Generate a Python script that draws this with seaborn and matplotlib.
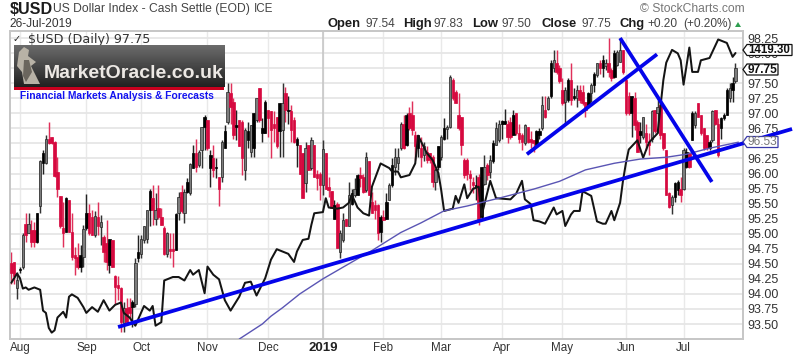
import numpy as np
import seaborn as sns
import matplotlib
matplotlib.use("Agg")
import matplotlib.pyplot as plt
from matplotlib.patches import Polygon, Rectangle

# ---- daily candles for $USD ----
opens = [94.51,94.53,94.09,94.42,94.45,95.16,95.02,95.06,95.06,95.34,
95.46,96.34,96.17,96.58,96.61,96.53,96.03,95.63,95.09,95.59,
95.56,95.03,94.65,94.62,94.65,94.62,95.35,95.34,95.28,94.98,
95.28,95.11,94.95,94.84,94.92,94.89,94.30,94.15,94.09,93.51,
93.76,93.79,93.87,93.84,94.70,94.67,94.89,94.92,95.71,95.59,
95.25,95.42,95.28,95.09,94.67,94.75,94.75,95.33,95.34,95.70,
95.34,95.86,95.67,96.34,96.34,96.14,96.39,96.94,96.89,96.31,
96.25,96.11,95.95,95.95,96.70,96.86,97.33,97.19,96.81,96.89,
96.86,96.06,96.70,96.36,97.00,96.89,97.42,96.75,97.19,97.06,
97.03,96.83,96.94,97.17,96.72,97.33,97.06,97.03,96.89,96.58,
96.47,96.34,95.84,96.47,96.09,96.47,96.00,96.00,95.81,96.34,
95.78,95.71,95.48,95.50,94.70,94.89,95.25,95.12,95.67,95.64,
95.97,95.97,95.95,95.73,96.20,95.53,95.48,95.48,95.28,95.28,
95.53,95.56,96.14,96.11,96.17,96.42,96.83,96.97,97.00,96.97,
96.64,96.64,96.42,96.31,96.36,96.34,96.28,95.86,96.45,96.28,
96.75,96.74,96.78,97.55,97.36,96.97,96.94,96.23,96.23,96.00,
95.86,95.81,95.95,96.11,95.83,96.14,96.03,96.50,96.47,96.56,
96.87,96.87,96.83,96.85,96.97,97.00,96.67,96.64,96.50,96.78,
96.58,96.56,96.70,96.70,96.75,97.06,97.07,97.83,97.75,97.83,
97.75,97.39,97.19,97.55,97.55,97.28,97.25,97.39,97.36,97.19,
97.33,97.33,97.66,97.64,97.83,97.89,97.78,97.83,97.72,98.00,
97.80,97.86,98.05,97.55,97.28,97.28,97.25,96.86,96.70,96.61,
96.67,96.53,96.58,97.06,97.00,97.14,96.67,96.39,95.67,95.48,
95.84,95.86,95.75,95.75,96.36,96.34,97.00,96.81,97.17,96.97,
96.75,96.64,96.53,96.56,97.06,96.83,96.92,96.97,97.39,97.25,
97.50,97.54]
closes = [94.34,94.29,94.23,94.40,94.98,94.98,95.16,94.87,94.87,94.87,
96.20,96.17,96.58,96.50,96.50,95.96,95.75,95.12,95.01,95.03,
95.03,94.62,94.59,94.45,94.45,95.07,95.09,95.01,94.98,95.30,
95.12,95.20,94.70,94.53,94.48,94.45,94.12,94.09,93.54,93.76,
93.54,93.68,93.79,94.51,94.59,94.92,95.12,95.39,95.39,95.39,
95.40,95.28,95.14,94.67,95.01,94.72,94.72,94.73,95.61,95.37,
95.70,95.70,96.16,96.09,96.11,96.36,96.77,96.77,96.42,96.09,
96.06,96.09,95.75,96.53,96.42,97.36,97.11,96.64,96.78,96.45,
96.25,96.72,96.56,96.81,96.42,97.25,96.89,96.67,96.67,96.92,
96.72,96.75,96.45,96.70,97.17,97.06,97.03,96.72,96.53,96.47,
96.00,95.59,96.42,96.06,96.55,95.95,95.92,95.81,96.40,95.75,
95.73,95.42,95.25,94.76,95.02,95.23,95.12,95.64,95.50,95.75,
95.64,95.92,95.70,96.27,95.64,95.34,95.39,95.01,95.03,95.23,
95.25,95.81,95.81,96.28,96.28,96.83,96.43,96.47,96.75,96.72,
96.45,96.42,96.28,96.45,96.22,96.22,95.86,96.06,96.11,96.61,
96.58,96.78,97.61,97.25,97.17,96.75,96.47,95.97,96.00,95.92,
95.81,95.78,95.23,95.28,96.11,95.97,96.22,96.20,96.75,96.83,
96.83,96.83,96.61,96.61,96.64,96.67,96.58,96.53,96.81,96.53,
96.53,96.50,96.47,96.64,97.14,96.94,97.25,97.28,97.89,97.69,
97.53,97.17,97.39,97.22,97.22,97.25,97.39,97.22,97.17,97.06,
97.14,97.47,97.47,97.83,97.75,97.75,97.83,97.69,97.58,97.61,
98.02,98.05,97.69,97.00,97.00,97.00,96.81,96.36,96.64,96.94,
96.53,96.47,97.03,96.70,97.11,96.64,96.42,95.64,95.45,95.61,
95.61,95.73,95.64,96.39,96.11,96.11,96.56,97.00,96.94,96.67,
96.42,96.42,96.42,97.03,96.83,96.31,96.75,96.92,96.97,97.42,
97.39,97.75]
highs = [94.70,94.53,94.37,94.45,95.01,95.34,95.34,95.23,95.20,95.34,
96.22,96.39,96.64,96.85,96.61,96.54,96.28,95.63,95.53,95.61,
95.56,95.34,94.78,94.84,94.81,95.14,95.66,95.50,95.39,95.37,
95.52,95.31,94.98,95.23,94.92,94.89,94.31,94.29,94.12,93.87,
93.93,93.93,93.90,94.59,94.98,94.98,95.12,95.39,95.75,95.81,
95.68,95.81,95.42,95.12,95.03,95.01,95.01,95.34,95.70,95.81,
95.75,95.92,96.17,96.47,96.58,96.39,96.78,96.97,96.89,96.39,
96.47,96.25,95.95,96.56,96.81,97.50,97.50,97.25,97.06,96.89,
96.89,96.75,96.86,96.81,97.00,97.25,97.42,96.92,97.22,97.06,
97.03,97.03,96.94,97.17,97.50,97.44,97.28,97.14,96.94,96.61,
96.47,96.34,96.53,96.47,96.61,96.47,96.06,96.03,96.55,96.34,
95.95,95.71,95.56,95.53,95.06,95.34,95.25,95.86,95.75,95.92,
96.00,96.11,96.00,96.36,96.20,95.70,95.56,95.50,95.31,95.39,
95.67,95.84,96.25,96.43,96.42,96.86,96.97,97.00,97.11,97.21,
96.70,96.64,96.61,96.53,96.45,96.34,96.31,96.09,96.45,96.64,
96.92,96.81,97.64,97.58,97.39,97.33,96.94,96.25,96.25,96.06,
95.95,95.97,96.00,96.11,96.31,96.17,96.31,96.56,96.85,96.89,
96.89,97.07,96.89,96.94,97.06,97.00,96.83,96.67,96.83,96.78,
96.70,96.56,96.72,96.76,97.28,97.28,97.28,97.89,98.05,98.05,
97.80,97.58,97.44,97.58,97.83,97.42,97.47,97.47,97.47,97.19,
97.36,97.50,97.69,97.83,97.89,97.97,97.91,98.25,97.75,98.05,
98.05,98.25,98.05,97.58,97.36,97.28,97.36,96.89,96.86,96.94,
96.83,96.67,97.06,97.06,97.22,97.14,96.67,96.39,95.70,95.64,
95.86,95.89,95.95,96.42,96.42,96.36,97.03,97.03,97.17,96.97,
96.75,96.64,96.56,97.06,97.06,96.92,96.94,97.00,97.42,97.50,
97.61,97.83]
lows = [94.17,94.17,93.91,94.34,94.42,94.87,95.01,94.78,94.78,94.84,
95.34,96.00,96.16,96.49,96.49,95.95,95.61,95.09,94.78,95.03,
95.03,94.56,94.31,94.42,94.37,94.45,95.06,94.98,94.98,94.95,
94.98,94.81,94.53,94.40,94.34,94.45,93.84,93.90,93.37,93.37,
93.51,93.56,93.45,93.79,94.53,94.59,94.84,94.84,95.12,95.14,
95.14,95.25,95.14,94.65,94.62,94.59,94.45,94.73,95.23,95.34,
95.17,95.67,95.64,96.09,96.03,96.11,96.09,96.39,96.39,95.77,
95.95,95.92,95.46,95.86,96.42,96.83,96.83,96.58,96.56,96.45,
95.97,95.89,96.42,96.28,96.27,96.86,96.86,96.53,96.67,96.61,
96.25,96.53,96.42,96.28,96.28,96.86,96.83,96.53,96.50,96.11,
96.00,95.59,95.70,96.06,96.06,95.95,95.73,95.56,95.64,95.75,
95.61,95.42,95.25,94.76,94.59,94.87,95.12,95.12,95.48,95.61,
95.64,95.78,95.67,95.70,95.64,95.34,95.25,94.89,94.87,95.23,
95.25,95.56,95.78,95.97,96.06,96.39,96.40,96.46,96.72,96.64,
96.22,96.28,96.10,96.20,96.17,96.17,95.78,95.73,96.06,96.22,
96.56,96.58,96.75,97.22,97.17,96.72,96.31,95.92,95.89,95.73,
95.67,95.56,95.14,95.25,95.81,95.89,95.92,96.17,96.47,96.53,
96.58,96.83,96.50,96.58,96.64,96.64,96.50,96.39,96.47,96.50,
96.42,96.36,96.45,96.58,96.72,96.92,97.06,97.25,97.69,97.66,
97.50,97.14,96.83,97.19,97.14,97.22,97.11,97.17,97.14,96.94,
97.14,97.19,97.36,97.61,97.66,97.61,97.72,97.61,97.53,97.58,
97.78,97.86,97.66,96.97,96.97,96.61,96.72,96.36,96.50,96.58,
96.39,96.31,96.53,96.67,96.67,96.58,96.39,95.64,95.43,95.32,
95.53,95.64,95.53,95.73,96.09,96.09,96.56,96.75,96.94,96.64,
96.39,96.39,96.39,96.53,96.81,96.28,96.58,96.89,96.97,97.19,
97.19,97.50]
# G = hollow up day, K = solid black, R = solid red
kinds = ("RRGKGRGRRK" "GKGRRRRRRK" "RRRRKGKRRG" "RGRRKRRRRG" "RRKGKGGGKR"
         "GRRRGRRKGR" "GKGKRGGKRK" "RKRGKGRRKR" "RGKGKGRKKR" "RRRKGRKRRK"
         "RRGRGRRRGR" "RRKRGGRGKG" "KRRGRRRRKR" "KGKGGGRKRR" "RKRGRRRGKG"
         "KGGRRRRRRR" "RKRKGRGKGG" "KKRRKRRRGR" "RRKKGRGKGR" "RRGKRKGRRR"
         "KGKGRKGRRK" "GGRRRKRRKG" "RRGRGRRRRG" "KKRGKRKGRR" "RRKGRRKKKG"
         "KG")

# ---- comparison line (black), with its own hidden scale ----
cmp_day = [0,2,3,4,5,6,8,10,11,12,13,14,15,16,18,19,20,21,23,25,26,28,30,32,34,36,38,
39,41,43,46,48,49,50,52,53,56,58,60,62,63,65,67,68,70,72,74,76,79,81,83,85,88,90,92,96,
98,99,101,103,104,105,108,109,110,113,115,117,118,120,122,124,125,128,131,132,134,135,
138,140,141,143,144,146,148,149,150,153,154,155,157,158,160,162,163,166,168,173,175,177,
178,180,181,183,185,188,189,191,192,194,195,197,198,201,203,205,206,208,209,211,212,213,
214,217,219,221,224,226,227,229,231,232,233,235,236,238,239,242,245,248,250,251]
cmp_val = [1221,1229,1225,1216,1217,1215,1217,1215,1197,1195,1182,1178,1180,1191,1196,1191,
1209,1211,1208,1200,1195,1200,1196,1206,1197,1202,1204,1195,1191,1184,1201,1197,1201,1184,
1187,1223,1226,1226,1223,1232,1228,1232,1212,1235,1228,1224,1206,1197,1209,1221,1222,1210,
1225,1241,1250,1246,1239,1248,1258,1259,1271,1281,1282,1294,1286,1285,1286,1290,1297,1286,
1281,1279,1304,1324,1320,1317,1317,1312,1314,1324,1348,1338,1333,1327,1316,1301,1283,1285,
1296,1290,1306,1294,1302,1304,1279,1309,1294,1293,1298,1309,1293,1289,1275,1274,1272,1286,
1280,1283,1270,1280,1283,1283,1300,1296,1274,1272,1272,1283,1275,1290,1309,1324,1336,1344,
1329,1342,1350,1396,1411,1422,1419,1413,1392,1424,1403,1403,1413,1415,1431,1428,1416,1419.3]

# ---- 200-day average ----
ma_day = [79,87,90,94,100,108,117,125,135,142,150,158,169,181,190,199,209,218,227,234,242,252]
ma_val = [93.25,93.50,93.63,93.77,94.00,94.25,94.50,94.72,95.02,95.18,95.38,95.46,95.59,95.74,
          95.87,96.06,96.17,96.24,96.27,96.32,96.42,96.52]

# ---- hand-drawn trend lines: (day, price) ends ----
trend_days = [[37, 270.6], [178.7, 223.8], [211, 242.8]]
trend_vals = [[93.45, 96.74], [96.32, 97.98], [98.25, 95.86]]

month_days = [3,26,45,68,89,108,129,149,170,191,213,233]
month_labels = ["Aug","Sep","Oct","Nov","Dec","2019","Feb","Mar","Apr","May","Jun","Jul"]
price_ticks = [93.50,93.75,94.00,94.25,94.50,94.75,95.00,95.25,95.50,95.75,96.00,96.25,
               96.50,96.75,97.00,97.25,97.50,97.75,98.00,98.25]

sns.set_theme(style="white")
plt.rcParams['font.family'] = ['Liberation Sans', 'DejaVu Sans']

W, H = 800, 362
fig = plt.figure(figsize=(W/100, H/100), dpi=100, facecolor="white")
ax = fig.add_axes([10/W, 1-339/H, 733/W, 308/H])

def fx(x): return x/W
def fy(y): return 1-y/H
def ftext(x, y, s, **kw):
    kw.setdefault("va", "center")
    return fig.text(fx(x), fy(y), s, **kw)
def fpoly(pts, **kw):
    p = Polygon([(fx(a), fy(b)) for a, b in pts], closed=True, transform=fig.transFigure, **kw)
    fig.add_artist(p)
    return p

# axes frame and grid
ax.set_xlim(-0.45, 253.6)
ax.set_ylim(93.251, 98.367)
for s in ax.spines.values():
    s.set_color("#c6c6c6"); s.set_linewidth(1.4)
ax.set_axisbelow(True)
ax.yaxis.grid(True, color="#e6e6e6", lw=1.3)
ax.xaxis.grid(True, color="#e9e9e9", lw=1.0)
ax.axvline(month_days[5], color="#c4c4c4", lw=1.1, zorder=0.8)

# candles
idx = np.arange(len(opens))
colors = {"R": "#d6093f", "K": "#000000", "G": "#7d7d7d"}
wick = {"R": "#e0305a", "K": "#222222", "G": "#333333"}
edge = {"R": "#d6093f", "K": "#000000", "G": "#222222"}
o, c, h, l = map(np.array, (opens, closes, highs, lows))
ax.vlines(idx, l, h, colors=[wick[k] for k in kinds], lw=1.05, zorder=2)
ax.bar(idx, np.maximum(np.abs(c-o), 0.02), bottom=np.minimum(o, c), width=0.85,
       color=[colors[k] for k in kinds], edgecolor=[edge[k] for k in kinds], linewidth=0.5, zorder=3)

# comparison line
ax2 = ax.twinx()
ax2.set_ylim(1172.5, 1438.3)
sns.lineplot(x=cmp_day, y=cmp_val, ax=ax2, color="#141414", lw=1.45, estimator=None, sort=False, legend=False)
ax2.axis("off")

# average and trend lines, same scale as the price
ax3 = ax.twinx()
ax3.set_ylim(ax.get_ylim())
sns.lineplot(x=ma_day, y=ma_val, ax=ax3, color="#5a55b4", lw=1.0, estimator=None, sort=False, legend=False)
for td, tv in zip(trend_days, trend_vals):
    ax3.plot(td, tv, color="#0404ea", lw=2.7, solid_capstyle="butt", clip_on=False, zorder=5)
ax3.axis("off")

# ticks
ax.set_xticks(month_days)
ax.set_xticklabels(month_labels, fontsize=8.4, color="#333333")
ax.get_xticklabels()[5].set_fontweight("bold")
ax.get_xticklabels()[5].set_fontsize(9.5)
ax.get_xticklabels()[5].set_color("#222222")
ax.set_yticks(price_ticks)
ax.set_yticklabels([f"{v:.2f}" for v in price_ticks], fontsize=9, color="#333333")
ax.yaxis.tick_right()
ax.tick_params(axis="both", length=0, pad=3)
ax.tick_params(axis="x", pad=2.5)

# header
ftext(10, 9, "$USD", fontsize=11.6, fontweight="bold", color="#1c1c1c")
ftext(53, 9, "US Dollar Index - Cash Settle (EOD)", fontsize=8.7, color="#444444")
ftext(254, 9, "ICE", fontsize=8.4, color="#444444")
ftext(9, 24, "26-Jul-2019", fontsize=8.6, color="#333333")
for x, s, bold in [(328,"Open",1),(365,"97.54",0),(403,"High",1),(434,"97.83",0),(472,"Low",1),
                   (502,"97.50",0),(541,"Close",1),(581,"97.75",0),(619,"Chg",1),(647,"+0.20",0),(683,"(+0.20%)",0)]:
    ftext(x, 24, s, fontsize=9.4 if bold else 8.6, fontweight="bold" if bold else "normal",
          color="#1c1c1c" if bold else "#444444")
fpoly([(735,27),(741,27),(738,22)], fc="#2e9e4f", ec="none")
ftext(640, 9, "\u00a9 StockCharts.com", fontsize=8.7, color="#777777")

ftext(28, 39, "$USD (Daily) 97.75", fontsize=9.2, color="#333333", family="DejaVu Sans")
ftext(13, 39, "\u2713", fontsize=7, color="#222222", family="DejaVu Sans", fontweight="bold")

# logo banner
la = fig.add_axes([14/W, 1-87/H, 210/W, 42/H], zorder=6)
grad = np.linspace(0.42, 0.13, 42).reshape(-1, 1)
la.imshow(grad, aspect="auto", cmap="gray", vmin=0, vmax=1)
la.axis("off")
fig.add_artist(Rectangle((fx(14), fy(90)), 210/W, 3/H, transform=fig.transFigure, fc="#c8001e", ec="none", zorder=7))
fpoly([(19,52),(24,47),(29,50),(28,56),(36,62),(31,66),(38,80),(40,84),(24,84),(22,72),(17,66)],
      fc="#b8b2a6", ec="none", zorder=7)
fpoly([(24,60),(29,60),(32,72),(26,82),(23,76)], fc="#6b665e", ec="none", zorder=7.5)
ftext(44, 73, "MarketOracle.co.uk", fontsize=14, fontweight="bold", color="#ece8e4", zorder=8)
ftext(19.5, 96, "Financial Markets Analysis & Forecasts", fontsize=7.4, fontweight="bold", color="#1313f0", zorder=8)

# value tags on the right
def tag(y, x1, label, ec, tc, bold=True, size=8.4):
    y0, y1 = y-5.5, y+5.5
    fpoly([(743,y),(747,y0),(x1,y0),(x1,y1),(747,y1)], fc="white", ec=ec, lw=0.9, zorder=7)
    ftext(748, y+0.3, label, fontsize=size, fontweight="bold" if bold else "normal", color=tc, zorder=8)

tag(50, 792, "1419.30", "#111111", "#111111", size=8.3)
tag(69.5, 778, "97.75", "#111111", "#111111", size=8.6)
tag(142, 778, "96.53", "#3a3aa8", "#777777", bold=False, size=8.6)

fig.savefig("out.png", dpi=100)
